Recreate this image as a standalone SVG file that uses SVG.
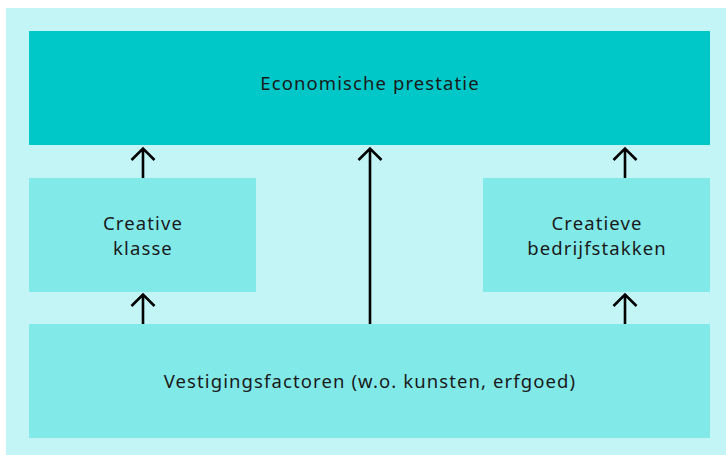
<svg xmlns="http://www.w3.org/2000/svg" width="726" height="455" viewBox="0 0 726 455">
<style>
.t{font-family:"Noto Sans",Lato,sans-serif;font-size:18.5px;letter-spacing:1.1px;font-variant-ligatures:none;fill:#1a1a1a;text-anchor:middle}
.box{fill:#82E9E9}
.arr{stroke:#000;stroke-width:2.6;fill:none}
</style>
<rect width="726" height="455" fill="#ffffff"/>
<rect x="6" y="8" width="720" height="447" fill="#C4F5F6"/>
<g id="economische-prestatie">
<rect x="29" y="31" width="681" height="114" fill="#00C8C8"/>
<text class="t" x="370" y="90">Economische prestatie</text>
</g>
<g id="creative-klasse">
<rect class="box" x="29" y="178" width="227" height="114"/>
<text class="t" x="143" y="230">Creative</text>
<text class="t" x="143" y="255">klasse</text>
</g>
<g id="creatieve-bedrijfstakken">
<rect class="box" x="483" y="178" width="227" height="114"/>
<text class="t" x="597" y="230">Creatieve</text>
<text class="t" x="597" y="255">bedrijfstakken</text>
</g>
<g id="vestigingsfactoren">
<rect class="box" x="29" y="324" width="681" height="114"/>
<text class="t" x="370" y="388">Vestigingsfactoren (w.o. kunsten, erfgoed)</text>
</g>
<g id="connectors" class="arr">
<path d="M143,178 V149 M131.5,160 L143,148.5 L154.5,160"/>
<path d="M370,324 V149 M358.5,160 L370,148.5 L381.5,160"/>
<path d="M625,178 V149 M613.5,160 L625,148.5 L636.5,160"/>
<path d="M143,324 V295 M131.5,306 L143,294.5 L154.5,306"/>
<path d="M625,324 V295 M613.5,306 L625,294.5 L636.5,306"/>
</g>
</svg>
